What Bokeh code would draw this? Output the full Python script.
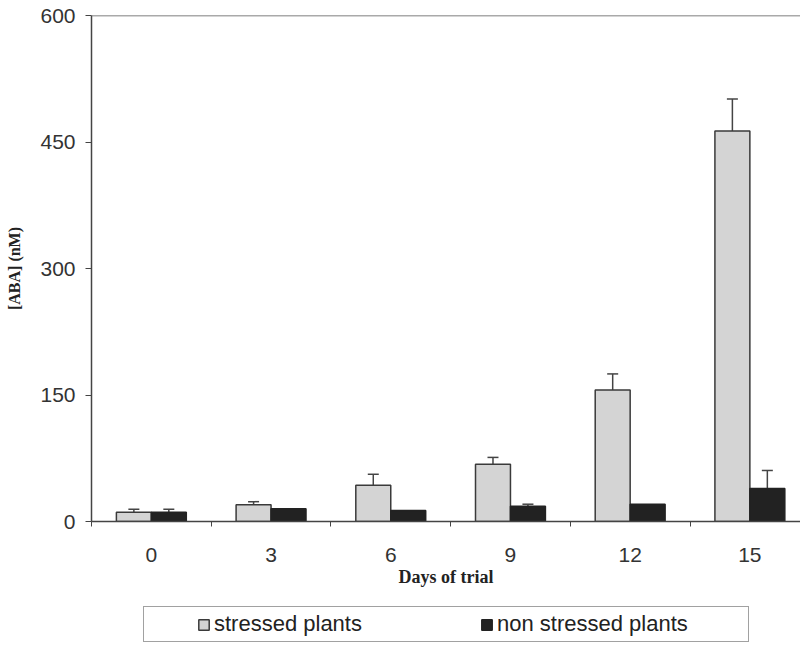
from bokeh.plotting import figure
from bokeh.layouts import column
from bokeh.models import (Range1d, FixedTicker, ColumnDataSource, Whisker, TeeHead,
                          Span, Legend, LegendItem)
from bokeh.embed import file_html
from bokeh.resources import INLINE

days = ["0", "3", "6", "9", "12", "15"]
stressed = [11, 20, 43, 68, 156, 463]
stressed_err = [3.5, 3.5, 13, 8, 19, 38]
non_stressed = [11, 15, 13, 18, 20.5, 39]
non_stressed_err = [3.5, 0, 0, 2.5, 0, 21.5]
y_ticks = [0, 150, 300, 450, 600]
series_names = ["stressed plants", "non stressed plants"]

S_FILL, S_LINE = "#d4d4d4", "#3a3a3a"
N_FILL, N_LINE = "#222222", "#222222"

BW = 0.292
centers = [i + 0.5 for i in range(len(days))]
xs = [c - BW / 2 for c in centers]
xn = [c + BW / 2 for c in centers]

p = figure(frame_width=709, frame_height=506, output_backend="svg", toolbar_location=None,
           x_range=Range1d(0, 5.923), y_range=Range1d(0, 600),
           min_border_left=91, min_border_right=0, min_border_top=15, min_border_bottom=80)
p.background_fill_color = "white"
p.border_fill_color = "white"
p.outline_line_color = None
p.grid.visible = False

src_s = ColumnDataSource(dict(x=xs, top=stressed))
src_n = ColumnDataSource(dict(x=xn, top=non_stressed))
p.vbar(x="x", top="top", width=BW, bottom=0, source=src_s,
       fill_color=S_FILL, line_color=S_LINE, line_width=1.5)
p.vbar(x="x", top="top", width=BW, bottom=0, source=src_n,
       fill_color=N_FILL, line_color=N_LINE, line_width=1.5)

def add_err(xv, vals, errs):
    bx, lo, hi = [], [], []
    for x, v, e in zip(xv, vals, errs):
        if e > 0:
            bx.append(x); lo.append(v); hi.append(v + e)
    src = ColumnDataSource(dict(base=bx, lower=lo, upper=hi))
    w = Whisker(base="base", lower="lower", upper="upper", source=src,
                line_color="#444444", line_width=1.5,
                upper_head=TeeHead(size=11, line_color="#444444", line_width=1.5),
                lower_head=None)
    p.add_layout(w)

add_err(xs, stressed, stressed_err)
add_err(xn, non_stressed, non_stressed_err)

# top border line
p.add_layout(Span(location=600, dimension="width", line_color="#555555", line_width=1.5))

# axes
p.yaxis.ticker = FixedTicker(ticks=y_ticks, minor_ticks=[])
p.yaxis.major_tick_out = 6
p.yaxis.major_tick_in = 0
p.yaxis.major_label_standoff = 10
p.yaxis.axis_label = "[ABA] (nM)"
p.yaxis.axis_label_standoff = 14
p.yaxis.axis_label_text_font = "Liberation Serif"
p.yaxis.axis_label_text_font_style = "bold"
p.yaxis.axis_label_text_font_size = "16px"
p.yaxis.axis_label_text_color = "#222222"

p.xaxis.ticker = FixedTicker(ticks=centers, minor_ticks=list(range(len(days) + 1)))
p.xaxis.major_label_overrides = {c: d for c, d in zip(centers, days)}
p.xaxis.major_tick_out = 0
p.xaxis.major_tick_in = 0
p.xaxis.minor_tick_out = 5
p.xaxis.minor_tick_in = 0
p.xaxis.minor_tick_line_color = "#444444"
p.xaxis.major_label_standoff = 21
p.xaxis.axis_label = "Days of trial"
p.xaxis.axis_label_standoff = 2
p.xaxis.axis_label_text_font = "Liberation Serif"
p.xaxis.axis_label_text_font_style = "bold"
p.xaxis.axis_label_text_font_size = "18px"
p.xaxis.axis_label_text_color = "#222222"

for ax in (p.xaxis, p.yaxis):
    ax.axis_line_color = "#444444"
    ax.axis_line_width = 1.5
    ax.major_label_text_font = "Liberation Sans"
    ax.major_label_text_font_size = "21px"
    ax.major_label_text_color = "#333333"
p.yaxis.major_tick_line_color = "#444444"
p.xaxis.major_tick_line_color = None

# legend strip below the chart (its tiny proxy bars sit hidden under the legend box)
lf = figure(width=800, height=43, output_backend="svg", toolbar_location=None,
            x_range=Range1d(0, 1), y_range=Range1d(0, 1), min_border=0)
lf.axis.visible = False
lf.grid.visible = False
lf.outline_line_color = None
lf.background_fill_color = "white"
lf.border_fill_color = "white"
l1 = lf.vbar(x=[0.5], top=[0.6], bottom=[0.4], width=0.005,
             fill_color=S_FILL, line_color=S_LINE, line_width=1.5)
l2 = lf.vbar(x=[0.5], top=[0.6], bottom=[0.4], width=0.005,
             fill_color=N_FILL, line_color=N_LINE, line_width=1.5)

legend = Legend(items=[LegendItem(label=series_names[0], renderers=[l1]),
                       LegendItem(label=series_names[1], renderers=[l2])],
                orientation="horizontal", location=(52, 2),
                title="\u00a0", title_location="left", title_standoff=48,
                title_text_font_size="1px",
                label_text_font="Liberation Sans", label_text_font_size="22px",
                label_text_color="#222222", label_width=247, label_height=22,
                glyph_width=13, glyph_height=13, label_standoff=4, spacing=19,
                padding=4, margin=0, border_line_color="#444444", border_line_width=1.5,
                background_fill_color="white", background_fill_alpha=1)
lf.add_layout(legend, "center")

layout = column(p, lf, spacing=0)
open("out.html", "w").write(file_html(layout, INLINE))
